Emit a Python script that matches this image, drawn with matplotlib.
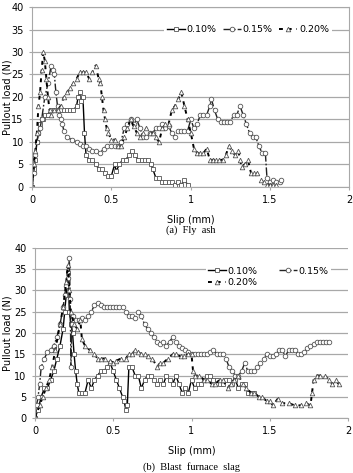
import matplotlib
matplotlib.use("Agg")
import matplotlib.pyplot as plt

# (a) Fly ash
fa_x10 = [0, 0.01, 0.02, 0.03, 0.04, 0.05, 0.06, 0.07, 0.08, 0.1, 0.12, 0.14, 0.16, 0.18, 0.2,
          0.22, 0.24, 0.26, 0.28, 0.29, 0.3, 0.31, 0.32, 0.33, 0.34, 0.36, 0.38, 0.4, 0.42, 0.44,
          0.46, 0.48, 0.5, 0.52, 0.53, 0.55, 0.57, 0.59, 0.61, 0.63, 0.65, 0.67, 0.69, 0.71, 0.73,
          0.75, 0.76, 0.78, 0.8, 0.82, 0.84, 0.86, 0.88, 0.9, 0.92, 0.94, 0.96, 0.98]
fa_y10 = [0, 4, 6, 10, 12, 14, 15, 15, 16, 16, 17, 17, 17, 17, 17,
          17, 17, 17, 18, 20, 21, 19, 20, 12, 7, 6, 6, 5, 4, 4,
          3, 2.5, 2.5, 5, 3.5, 5, 6, 6, 7, 8, 7, 6, 6, 6, 6,
          5, 4, 2, 2, 1, 1, 1, 1, 0.5, 1, 0.5, 1.5, 0.5]

fa_x15 = [0, 0.01, 0.02, 0.03, 0.04, 0.05, 0.06, 0.08, 0.1, 0.12, 0.13, 0.14, 0.15, 0.16, 0.17,
          0.18, 0.19, 0.2, 0.22, 0.25, 0.28, 0.3, 0.32, 0.34, 0.36, 0.38, 0.4, 0.43, 0.45, 0.47,
          0.5, 0.52, 0.54, 0.56, 0.58, 0.6, 0.62, 0.64, 0.66, 0.68, 0.7, 0.72, 0.74, 0.76, 0.78,
          0.8, 0.82, 0.84, 0.86, 0.88, 0.9, 0.92, 0.94, 0.96, 0.98, 1.0, 1.02, 1.04, 1.06, 1.08,
          1.1, 1.12, 1.13, 1.15, 1.17, 1.19, 1.21, 1.23, 1.25, 1.27, 1.29, 1.31, 1.33, 1.35, 1.37,
          1.39, 1.41, 1.43, 1.45, 1.47, 1.48, 1.5, 1.52, 1.54, 1.56, 1.57]
fa_y15 = [0, 3, 7, 10, 12, 13, 15, 20, 23, 27, 26, 25, 21, 18, 16,
          15, 14, 12.5, 11, 10.5, 10, 9.5, 9, 9, 8.5, 8, 8, 7.5, 8.5, 9,
          9, 9, 9, 10, 13, 14, 15, 14, 15, 13, 11, 11, 12, 12, 13,
          13, 14, 13, 13.5, 12, 11, 12.5, 12.5, 12.5, 12.5, 15, 13, 14, 16, 16,
          16, 18, 19.5, 17, 15, 14.5, 14.5, 14.5, 14.5, 16, 16, 18, 16, 14, 12,
          11, 11, 9, 7.5, 7.5, 2, 1, 1.5, 1, 1, 1.5]

fa_x20 = [0, 0.01, 0.02, 0.03, 0.04, 0.05, 0.06, 0.07, 0.08, 0.09, 0.1, 0.11, 0.12, 0.14, 0.16,
          0.18, 0.2, 0.22, 0.24, 0.26, 0.28, 0.3, 0.32, 0.34, 0.36, 0.38, 0.4, 0.42, 0.43, 0.44,
          0.45, 0.46, 0.47, 0.48, 0.5, 0.52, 0.54, 0.56, 0.58, 0.6, 0.62, 0.64, 0.66, 0.68, 0.7,
          0.72, 0.74, 0.76, 0.78, 0.8, 0.82, 0.84, 0.86, 0.88, 0.9, 0.92, 0.94, 0.96, 0.98, 1.0,
          1.02, 1.04, 1.06, 1.08, 1.1, 1.12, 1.14, 1.16, 1.18, 1.2, 1.22, 1.24, 1.26, 1.28, 1.3,
          1.31, 1.32, 1.34, 1.36, 1.38, 1.4, 1.42, 1.44, 1.46, 1.48, 1.5, 1.52, 1.54]
fa_y20 = [0, 5, 8, 12, 18, 21, 26, 30, 28, 24, 20, 17, 16, 17, 17,
          18, 20, 21, 22, 23, 24, 25.5, 25.5, 25.5, 24, 25.5, 27, 24, 23, 20,
          17, 15, 13, 12, 10.5, 10.5, 9, 9, 11, 13, 15, 13.5, 12, 11, 12,
          13, 12, 12, 11, 10, 13, 14, 14, 17, 18, 19.5, 21, 18, 15, 12,
          8.5, 7.5, 7.5, 7.5, 8.5, 6, 6, 6, 6, 6, 7, 9, 8, 7, 8,
          6, 4.5, 5, 6, 3, 3, 3, 1.5, 1, 0.5, 0.5, 0.5, 0.5]

# (b) Blast furnace slag
bfs_x10 = [0, 0.02, 0.04, 0.06, 0.08, 0.1, 0.12, 0.14, 0.16, 0.18, 0.19, 0.2, 0.21, 0.22, 0.23,
           0.24, 0.25, 0.26, 0.27, 0.28, 0.3, 0.32, 0.34, 0.36, 0.38, 0.4, 0.42, 0.44, 0.46, 0.48,
           0.5, 0.52, 0.54, 0.56, 0.57, 0.58, 0.59, 0.6, 0.62, 0.64, 0.66, 0.68, 0.7, 0.72, 0.74,
           0.76, 0.78, 0.8, 0.82, 0.84, 0.86, 0.88, 0.9, 0.92, 0.94, 0.96, 0.98, 1.0, 1.02, 1.04,
           1.06, 1.08, 1.1, 1.12, 1.14, 1.16, 1.18, 1.2, 1.22, 1.24, 1.26, 1.28, 1.3, 1.32, 1.34,
           1.36, 1.38, 1.4]
bfs_y10 = [0, 2, 5, 7, 7, 9, 11, 14, 17, 21, 25, 29, 34, 25, 22,
           20, 15, 11, 8, 6, 6, 6, 9, 7, 9, 10, 11, 11, 12, 13,
           11, 9, 7, 5, 4, 2, 3, 12, 12, 10, 10, 7, 9, 10, 10,
           9, 8, 9, 8, 10, 9, 8, 10, 8, 6, 7, 6, 9, 7, 8,
           8, 9, 10, 10, 9, 9, 8, 8, 9, 9, 8, 9, 7, 8, 8,
           6, 6, 6]

bfs_x15 = [0, 0.01, 0.02, 0.03, 0.04, 0.06, 0.08, 0.1, 0.12, 0.14, 0.16, 0.18, 0.19, 0.2, 0.21,
           0.22, 0.225, 0.23, 0.235, 0.24, 0.26, 0.28, 0.3, 0.32, 0.34, 0.36, 0.38, 0.4, 0.42, 0.44,
           0.46, 0.48, 0.5, 0.52, 0.54, 0.56, 0.58, 0.6, 0.62, 0.64, 0.66, 0.68, 0.7, 0.72, 0.74,
           0.76, 0.78, 0.8, 0.82, 0.84, 0.86, 0.88, 0.9, 0.92, 0.94, 0.96, 0.98, 1.0, 1.02, 1.04,
           1.06, 1.08, 1.1, 1.12, 1.14, 1.16, 1.18, 1.2, 1.22, 1.24, 1.26, 1.28, 1.3, 1.32, 1.34,
           1.36, 1.38, 1.4, 1.42, 1.44, 1.46, 1.48, 1.5, 1.52, 1.54, 1.56, 1.58, 1.6, 1.62, 1.64,
           1.66, 1.68, 1.7, 1.72, 1.74, 1.76, 1.78, 1.8, 1.82, 1.84, 1.86, 1.88]
bfs_y15 = [0, 3, 5, 8, 12, 14, 15.5, 16, 17, 19, 22, 26, 29, 31, 33,
           37.5, 28, 12, 22, 24, 23, 23, 23.5, 23, 24, 25, 26.5, 27, 26.5, 26,
           26, 26, 26, 26, 26, 26, 25, 24, 24, 23.5, 25, 24, 22, 21, 20,
           19, 18, 17.5, 18, 17, 18, 19, 18, 17, 16.5, 16, 15.5, 15, 15, 15,
           15, 15, 15, 15.5, 16, 15, 15, 15, 14, 12, 11, 10, 10, 11, 13,
           11, 11, 11, 12, 13, 14, 15, 14.5, 14.5, 15, 16, 16, 14.5, 16, 16,
           16, 15, 15, 15.5, 16.5, 17, 17.5, 18, 18, 18, 18, 18]

bfs_x20 = [0, 0.03, 0.05, 0.07, 0.09, 0.11, 0.13, 0.16, 0.18, 0.2, 0.21, 0.22, 0.23, 0.25, 0.27,
           0.29, 0.3, 0.32, 0.35, 0.38, 0.4, 0.42, 0.45, 0.48, 0.5, 0.52, 0.55, 0.58, 0.6, 0.62,
           0.64, 0.66, 0.68, 0.7, 0.72, 0.75, 0.78, 0.8, 0.82, 0.85, 0.88, 0.9, 0.93, 0.95, 0.98,
           1.0, 1.01, 1.02, 1.05, 1.08, 1.1, 1.13, 1.15, 1.18, 1.2, 1.23, 1.25, 1.27, 1.3, 1.33,
           1.35, 1.38, 1.4, 1.43, 1.45, 1.48, 1.5, 1.52, 1.55, 1.58, 1.62, 1.66, 1.7, 1.73, 1.76,
           1.77, 1.78, 1.8, 1.82, 1.85, 1.88, 1.9, 1.92, 1.94]
bfs_y20 = [0, 3, 5, 7, 9, 12, 16, 22, 26, 32, 36, 30, 25, 22, 21,
           23, 18.5, 17, 16, 15, 14, 14, 14, 13.5, 13, 13.5, 14, 14, 15, 15,
           16, 15.5, 15, 15, 14.5, 14, 12, 13, 13, 14, 15, 15, 14.5, 14.5, 15,
           15, 11, 10, 10, 9, 9, 8, 8, 9, 9, 7, 8, 9, 10, 8,
           7, 6, 6, 5, 5, 4, 4, 3, 4.5, 3.5, 3.5, 3, 3, 3.5, 3,
           6, 9, 10, 10, 10, 9, 8, 9, 8]

labels = ["0.10%", "0.15%", "0.20%"]
yticks = [0, 5, 10, 15, 20, 25, 30, 35, 40]
xticks = [0, 0.5, 1, 1.5, 2]
xtick_labels = ["0", "0.5", "1", "1.5", "2"]

GRID = "#a8a8a8"
EDGE = "#555555"

styles = [
    dict(color="black", lw=1.0, ls="-", marker="s"),
    dict(color="#222222", lw=1.0, ls=(0, (6, 1.5, 1.2, 1.5)), marker="o"),
    dict(color="black", lw=1.4, ls=(0, (2, 2.5)), marker="^"),
]


def draw_panel(ax, series, caption, legend_cols, legend_pos, col_space, label_x, cap_y):
    handles = []
    for (x, y), lab, st in zip(series, labels, styles):
        h, = ax.plot(x, y, color=st["color"], lw=st["lw"], ls=st["ls"],
                     marker=st["marker"], ms=3.3, mfc="white", mec=EDGE, mew=0.6,
                     label=lab)
        handles.append(h)
    ax.set_xlim(0, 2)
    ax.set_ylim(0, 40)
    ax.set_yticks(yticks)
    ax.set_xticks(xticks)
    ax.set_xticklabels(xtick_labels)
    ax.yaxis.grid(True, color=GRID, lw=0.9)
    ax.set_axisbelow(True)
    ax.tick_params(labelsize=7, length=2, color=GRID, pad=4)
    for s in ax.spines.values():
        s.set_color(GRID)
        s.set_linewidth(0.8)
    ax.set_xlabel("Slip (mm)", fontsize=7, labelpad=7)
    ax.set_ylabel("Pullout load (N)", fontsize=7)
    ax.yaxis.set_label_coords(label_x, 0.5)

    if legend_cols == 2:
        # row-wise order: 0.10% 0.15% / 0.20%
        handles = [handles[0], handles[2], handles[1]]
    ax.legend(handles=handles, ncol=legend_cols, loc="center", bbox_to_anchor=legend_pos,
              fontsize=6.8, frameon=True, facecolor="white", edgecolor="none",
              framealpha=1, fancybox=False, handlelength=1.9, numpoints=1,
              handletextpad=0.2, columnspacing=col_space, borderpad=0.25,
              labelspacing=0.25, borderaxespad=0)
    ax.text(0.5, cap_y, caption, transform=ax.transAxes, ha="center", va="center",
            fontsize=7.5, family="Liberation Serif")


fig = plt.figure(figsize=(3.53, 4.73), dpi=100)

ax1 = fig.add_axes([0.091, 0.605, 0.899, 0.380])
draw_panel(ax1, [(fa_x10, fa_y10), (fa_x15, fa_y15), (fa_x20, fa_y20)],
           "(a)  Fly  ash", 3, (0.68, 0.875), 0.7, -0.062, -0.24)

ax2 = fig.add_axes([0.099, 0.116, 0.887, 0.360])
draw_panel(ax2, [(bfs_x10, bfs_y10), (bfs_x15, bfs_y15), (bfs_x20, bfs_y20)],
           "(b)  Blast  furnace  slag", 2, (0.745, 0.83), 2.2, -0.073, -0.29)
ax2.spines["top"].set_visible(False)
ax2.spines["right"].set_visible(False)

fig.savefig("out.png", dpi=100)
